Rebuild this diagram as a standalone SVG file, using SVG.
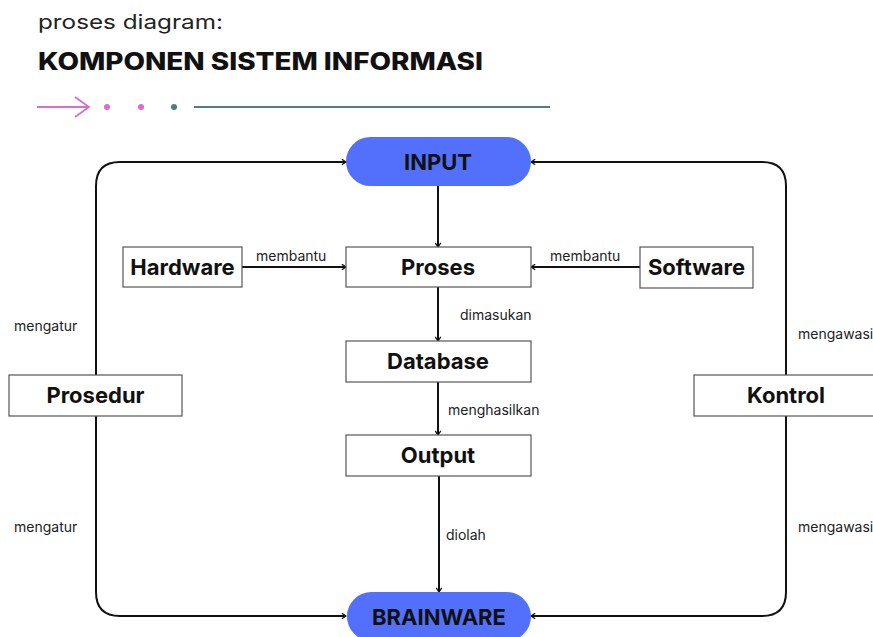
<svg xmlns="http://www.w3.org/2000/svg" width="873" height="637" viewBox="0 0 873 637">
  <style>
    .sub { font-family: Inter, "Liberation Sans", sans-serif; font-size: 20px; fill: #222; }
    .head { font-family: Inter, "Liberation Sans", sans-serif; font-size: 24px; font-weight: 800; fill: #111; }
    .box { fill: #fff; stroke: #555; stroke-width: 1.2; }
    .pill { fill: #5270fb; }
    .lbl { font-family: Inter, "Liberation Sans", sans-serif; font-size: 22px; font-weight: 700; fill: #111; text-anchor: middle; }
    .edge { fill: none; stroke: #111; stroke-width: 2; }
    .note { font-family: Inter, "Liberation Sans", sans-serif; font-size: 14px; fill: #222; }
  </style>
  <defs>
    <marker id="arr" viewBox="0 0 10 10" refX="9" refY="5" markerWidth="7" markerHeight="7" orient="auto" markerUnits="userSpaceOnUse">
      <path d="M3,1 L9,5 L3,9" fill="none" stroke="#111" stroke-width="1.8"/>
    </marker>
  </defs>
  <rect width="873" height="637" fill="#fff"/>

  <!-- heading -->
  <text class="sub" x="38" y="29" textLength="185" lengthAdjust="spacingAndGlyphs">proses diagram:</text>
  <text class="head" x="38" y="70" textLength="445" lengthAdjust="spacingAndGlyphs">KOMPONEN SISTEM INFORMASI</text>

  <!-- decorative rule -->
  <g id="decor">
    <line x1="37" y1="107" x2="89" y2="107" stroke="#d96ad8" stroke-width="1.8"/>
    <polyline points="75,97 89,107 75,117" fill="none" stroke="#d96ad8" stroke-width="1.8"/>
    <circle cx="107" cy="107" r="3" fill="#d96ad8"/>
    <circle cx="141" cy="107" r="3" fill="#d96ad8"/>
    <circle cx="174" cy="107" r="3" fill="#4d7d8a"/>
    <line x1="194" y1="107" x2="550" y2="107" stroke="#4d7d8a" stroke-width="1.8"/>
  </g>

  <!-- connectors -->
  <g id="connectors">
    <path class="edge" marker-end="url(#arr)" d="M96,375 V186 Q96,162 120,162 H346"/>
    <path class="edge" marker-end="url(#arr)" d="M96,416 V592 Q96,616 120,616 H346"/>
    <path class="edge" marker-end="url(#arr)" d="M786,375 V186 Q786,162 762,162 H531"/>
    <path class="edge" marker-end="url(#arr)" d="M786,416 V592 Q786,616 762,616 H531"/>
    <line class="edge" marker-end="url(#arr)" x1="438" y1="186" x2="438" y2="247"/>
    <line class="edge" marker-end="url(#arr)" x1="438" y1="287" x2="438" y2="341"/>
    <line class="edge" marker-end="url(#arr)" x1="438" y1="382" x2="438" y2="435"/>
    <line class="edge" marker-end="url(#arr)" x1="439" y1="476" x2="439" y2="592"/>
    <line class="edge" marker-end="url(#arr)" x1="242" y1="267" x2="346" y2="267"/>
    <line class="edge" marker-end="url(#arr)" x1="640" y1="267" x2="531" y2="267"/>
    <text class="note" x="256" y="261">membantu</text>
    <text class="note" x="550" y="261">membantu</text>
    <text class="note" x="460" y="320">dimasukan</text>
    <text class="note" x="448" y="415">menghasilkan</text>
    <text class="note" x="446" y="540">diolah</text>
    <text class="note" x="14" y="331">mengatur</text>
    <text class="note" x="14" y="532">mengatur</text>
    <text class="note" x="798" y="339">mengawasi</text>
    <text class="note" x="798" y="532">mengawasi</text>
  </g>

  <!-- nodes -->
  <g id="input">
    <rect class="pill" x="346" y="137" width="185" height="49" rx="24.5"/>
    <text class="lbl" x="438" y="170">INPUT</text>
  </g>
  <g id="hardware">
    <rect class="box" x="123" y="247" width="119" height="40"/>
    <text class="lbl" x="182.5" y="275">Hardware</text>
  </g>
  <g id="proses">
    <rect class="box" x="346" y="247" width="185" height="40"/>
    <text class="lbl" x="438" y="275">Proses</text>
  </g>
  <g id="software">
    <rect class="box" x="640" y="247" width="113" height="41"/>
    <text class="lbl" x="696.5" y="275">Software</text>
  </g>
  <g id="database">
    <rect class="box" x="346" y="341" width="185" height="41"/>
    <text class="lbl" x="438" y="369">Database</text>
  </g>
  <g id="output">
    <rect class="box" x="346" y="435" width="185" height="41"/>
    <text class="lbl" x="438" y="463">Output</text>
  </g>
  <g id="prosedur">
    <rect class="box" x="9" y="375" width="173" height="41"/>
    <text class="lbl" x="95.5" y="403">Prosedur</text>
  </g>
  <g id="kontrol">
    <rect class="box" x="694" y="375" width="185" height="41"/>
    <text class="lbl" x="786" y="403">Kontrol</text>
  </g>
  <g id="brainware">
    <rect class="pill" x="347" y="592" width="184" height="49" rx="24.5"/>
    <text class="lbl" x="439" y="625">BRAINWARE</text>
  </g>
</svg>
